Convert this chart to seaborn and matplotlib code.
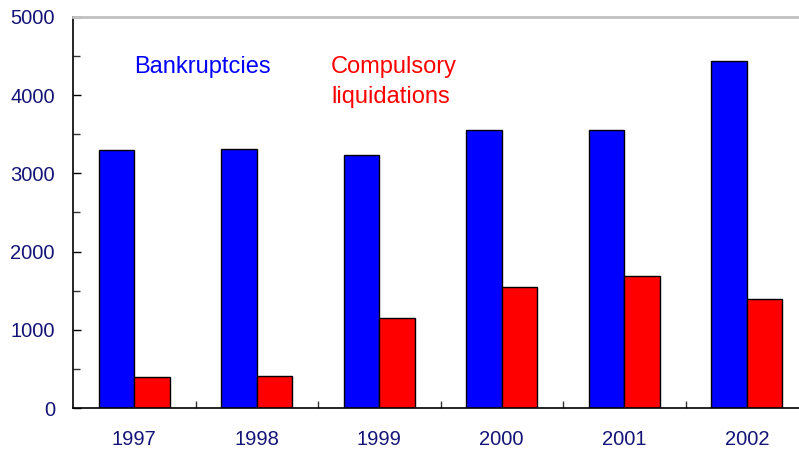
import pandas as pd
import numpy as np
import matplotlib.pyplot as plt
import seaborn as sns
from matplotlib.ticker import MultipleLocator, FixedLocator

years = ['1997', '1998', '1999', '2000', '2001', '2002']
bankruptcies = [3300, 3310, 3230, 3560, 3550, 4440]
liquidations = [400, 410, 1150, 1550, 1690, 1390]
series_names = ['Bankruptcies', 'Compulsory liquidations']

df = pd.DataFrame({
    'Year': years * 2,
    'Count': bankruptcies + liquidations,
    'Type': [series_names[0]] * len(years) + [series_names[1]] * len(years),
})

sns.set_style('white')
plt.rcParams['font.family'] = ['Liberation Sans', 'DejaVu Sans']

fig = plt.figure(figsize=(7.99, 4.5), dpi=100)
ax = fig.add_axes([73 / 799, 42 / 450, 735 / 799, 391 / 450])

sns.barplot(data=df, x='Year', y='Count', hue='Type', order=years,
            palette=['#0000ff', '#ff0000'], width=0.58, gap=0,
            edgecolor='black', linewidth=1, saturation=1, ax=ax, legend=False)

ax.set_xlim(-0.5, 5.5)
ax.set_ylim(0, 5000)
ax.set_xlabel('')
ax.set_ylabel('')

navy = '#141478'
ax.yaxis.set_major_locator(MultipleLocator(1000))
ax.yaxis.set_minor_locator(MultipleLocator(500))
ax.tick_params(axis='y', which='major', direction='in', length=6, width=1,
               color='black', left=True, labelsize=14.5, labelcolor=navy, pad=13)
ax.tick_params(axis='y', which='minor', direction='in', length=5, width=1,
               color='#333333', left=True)
ax.xaxis.set_minor_locator(FixedLocator(np.arange(0.5, 5.5, 1)))
ax.tick_params(axis='x', which='major', length=0, labelsize=14.5,
               labelcolor=navy, pad=16)
ax.tick_params(axis='x', which='minor', direction='in', length=5, width=1,
               color='#333333', bottom=True)

for side in ['left', 'bottom']:
    ax.spines[side].set_color('black')
    ax.spines[side].set_linewidth(1.2)
ax.spines['top'].set_color('#c0c0c0')
ax.spines['top'].set_linewidth(2)
ax.spines['right'].set_visible(False)

fig.text(134 / 799, 1 - 73 / 450, 'Bankruptcies', color='#0000ff',
         fontsize=17, va='baseline', ha='left')
fig.text(331 / 799, 1 - 73 / 450, 'Compulsory', color='#ff0000',
         fontsize=17, va='baseline', ha='left')
fig.text(331 / 799, 1 - 103 / 450, 'liquidations', color='#ff0000',
         fontsize=17, va='baseline', ha='left')

fig.savefig('out.png', dpi=100)
